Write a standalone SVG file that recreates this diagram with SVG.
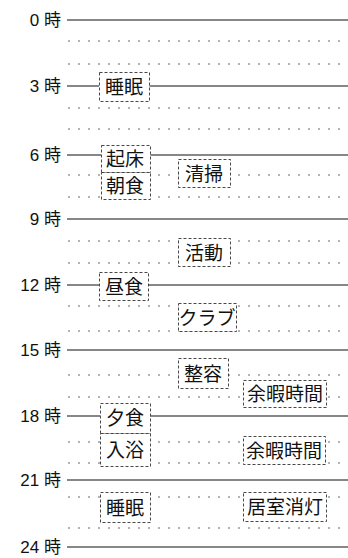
<svg xmlns="http://www.w3.org/2000/svg" width="348" height="558" viewBox="0 0 348 558">
<style>
.bg{fill:#fff}
.hl{stroke:#111;stroke-width:1.2;fill:none}
.dl{stroke:#666;stroke-width:1;stroke-dasharray:2 8;fill:none}
.box{fill:#fff;stroke:#333;stroke-width:0.9;stroke-dasharray:3 2}
.lab{font-family:"Liberation Sans","Noto Sans CJK JP",sans-serif;font-size:17px;fill:#111;text-anchor:end}
.t{font-family:"Noto Sans CJK JP",sans-serif;font-size:19px;fill:#111;text-anchor:middle}
</style>
<rect class="bg" x="0" y="0" width="348" height="558"/>
<g id="connectors">
<path class="dl" d="M68 41H348M68 64H348M68 108H348M68 129H348M68 175H348M68 197H348M68 241H348M68 263H348M68 306H348M68 331H348M68 375H348M68 397H348M68 442H348M68 463H348M68 497H348M68 528H348"/>
<path class="hl" d="M67 20H348M67 86H99M149 86H348M67 155H101M150 155H348M67 219H348M67 285H99M148 285H348M67 350H348M67 416H100M150 416H348M67 480H348M67 547H348"/>
</g>
<g id="hours">
<text class="lab" x="61" y="26">0 時</text>
<text class="lab" x="61" y="92">3 時</text>
<text class="lab" x="61" y="161">6 時</text>
<text class="lab" x="61" y="225">9 時</text>
<text class="lab" x="61" y="291">12 時</text>
<text class="lab" x="61" y="356">15 時</text>
<text class="lab" x="61" y="422">18 時</text>
<text class="lab" x="61" y="486">21 時</text>
<text class="lab" x="61" y="553">24 時</text>
</g>
<g id="n-sleep1"><rect class="box" x="99.5" y="72.5" width="50" height="29"/><text class="t" x="124" y="94">睡眠</text></g>
<g id="n-wake"><rect class="box" x="101.5" y="145.5" width="49" height="27"/><text class="t" x="125" y="166">起床</text></g>
<g id="n-breakfast"><rect class="box" x="101.5" y="172.5" width="49" height="27"/><text class="t" x="125" y="193">朝食</text></g>
<g id="n-clean"><rect class="box" x="178.5" y="159.5" width="52" height="28"/><text class="t" x="204" y="181">清掃</text></g>
<g id="n-activity"><rect class="box" x="178.5" y="238.5" width="52" height="28"/><text class="t" x="204" y="260">活動</text></g>
<g id="n-lunch"><rect class="box" x="99.5" y="272.5" width="49" height="28"/><text class="t" x="124" y="294">昼食</text></g>
<g id="n-club"><rect class="box" x="178.5" y="303.5" width="58" height="28"/><text class="t" x="207" y="325">クラブ</text></g>
<g id="n-groom"><rect class="box" x="178.5" y="358.5" width="50" height="30"/><text class="t" x="203" y="381">整容</text></g>
<g id="n-leisure1"><rect class="box" x="243.5" y="380.5" width="83" height="27"/><text class="t" x="285" y="401">余暇時間</text></g>
<g id="n-dinner"><rect class="box" x="100.5" y="403.5" width="50" height="30"/><text class="t" x="125" y="425">夕食</text></g>
<g id="n-bath"><rect class="box" x="100.5" y="433.5" width="50" height="33"/><text class="t" x="125" y="457">入浴</text></g>
<g id="n-leisure2"><rect class="box" x="243.5" y="436.5" width="82" height="28"/><text class="t" x="284" y="458">余暇時間</text></g>
<g id="n-sleep2"><rect class="box" x="100.5" y="492.5" width="50" height="30"/><text class="t" x="125" y="515">睡眠</text></g>
<g id="n-lightsout"><rect class="box" x="243.5" y="492.5" width="83" height="29"/><text class="t" x="285" y="514">居室消灯</text></g>
</svg>
